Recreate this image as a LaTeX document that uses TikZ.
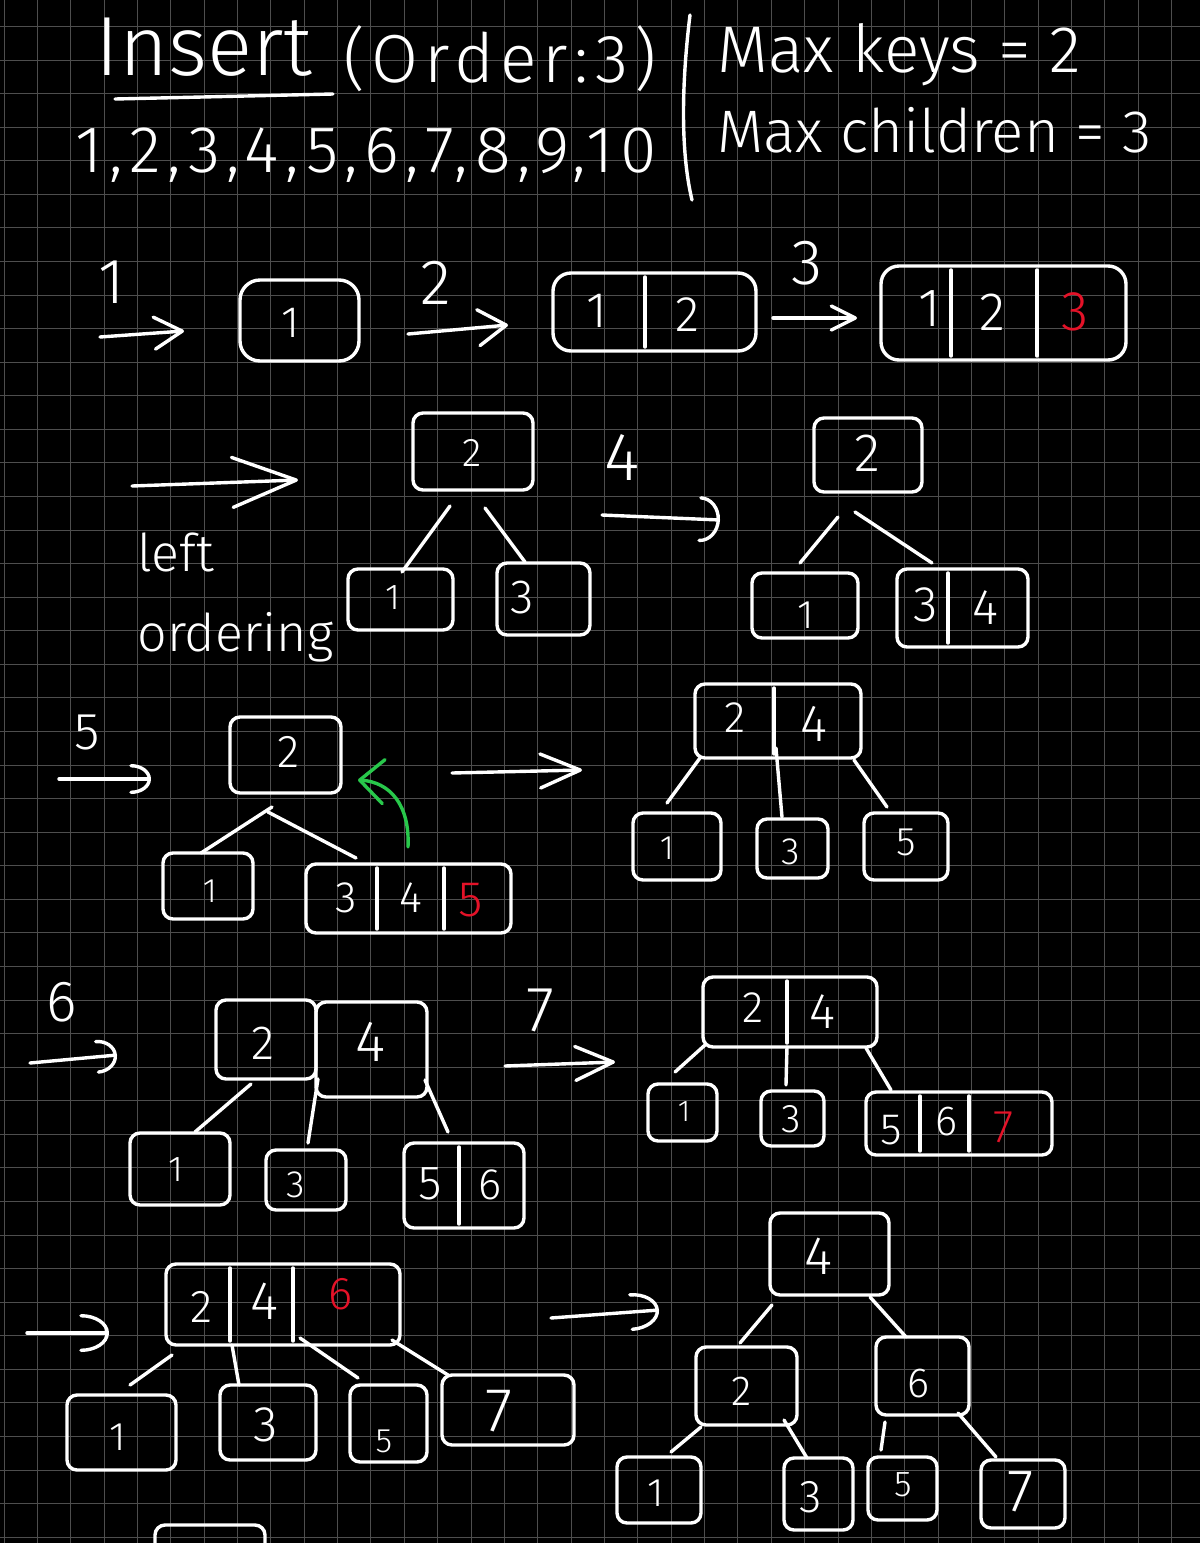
\documentclass[tikz,border=0pt]{standalone}
\usepackage{fontspec}
\setmainfont{Fira Sans Light}
\usetikzlibrary{arrows.meta,calc,fit}
\definecolor{inkred}{RGB}{228,18,40}
\definecolor{inkgreen}{RGB}{40,200,75}
\definecolor{gridc}{RGB}{78,78,78}
\newcommand{\fs}[1]{\fontsize{#1pt}{#1pt}\selectfont}
\newcommand{\kbox}[5]{\node[kbox, fit={(#2,#3) (#4,#5)}] (#1) {};}
\newcommand{\kdiv}[2]{\draw[ink, shorten <=2pt, shorten >=2pt] (#2,0 |- #1.north) -- (#2,0 |- #1.south);}
\newcommand{\bedge}[6]{\draw[ink] ($(#1.south west)+(#2,#3)$) -- ($(#4.north west)+(#5,#6)$);}
\begin{document}
\begin{tikzpicture}[x=0.5pt,y=-0.5pt,
  ink/.style={draw=white, line width=1.7pt, line cap=round, line join=round},
  kbox/.style={draw=white, line width=1.7pt, rounded corners=5pt, inner sep=0pt, outer sep=0pt},
  key/.style={text=white, inner sep=0pt},
  txt/.style={text=white, inner sep=0pt},
  gridline/.style={draw=gridc, line width=0.5pt}]
\useasboundingbox (0,0) rectangle (1200,1543);
\clip (0,0) rectangle (1200,1543);
\fill[black] (0,0) rectangle (1200,1543);
% grid: one crisp 1px line every 33.4 px
\foreach \k in {0,...,35} {
  \pgfmathsetmacro{\gx}{(round(3.5+33.36*\k)+0.5)*0.5}
  \draw[gridline] (\gx pt,0pt) -- (\gx pt,-771.5pt);
}
\foreach \k in {0,...,45} {
  \pgfmathsetmacro{\gy}{-(round(26+33.57*\k)+0.5)*0.5}
  \draw[gridline] (0pt,\gy pt) -- (600pt,\gy pt);
}

% ---------- header ----------
\node[txt, anchor=base west, font=\fs{42}] (insert) at (95,75) {Insert};
\draw[ink] (115,99) -- (333,94);
\node[txt, anchor=base west, font={\fs{34}\addfontfeatures{LetterSpace=9}}] (order) at (343,82) {(Order:3)};
\node[txt, anchor=base west, font={\fs{33}\addfontfeatures{LetterSpace=10}}] (seq) at (75,172) {1,2,3,4,5,6,7,8,9,10};
\draw[ink] (690,15) .. controls (682,80) and (680,150) .. (692,200);
\node[txt, anchor=base west, font=\fs{33}] (maxk) at (717,72) {Max keys = 2};
\node[txt, anchor=base west, font=\fs{30}] (maxc) at (717,152) {Max children = 3};

% ---------- row 1 ----------
\node[txt, font=\fs{32}] (l1) at (112,282) {1};
\coordinate (a1s) at (100,337); \coordinate (a1e) at (184,331);
\draw[ink, -{Straight Barb[round,length=14pt,width=16pt]}] (a1s) -- (a1e);
\node[kbox, rounded corners=10pt, fit={(240,280) (359,361)}] (b1) {};
\node[key, font=\fs{22}] (b1k1) at (291,323) {1};

\node[txt, font=\fs{32}] (l2) at (436,283) {2};
\coordinate (a2s) at (408,334); \coordinate (a2e) at (508,325);
\draw[ink, -{Straight Barb[round,length=14pt,width=18pt]}] (a2s) -- (a2e);
\node[kbox, rounded corners=9pt, fit={(553,273) (756,351)}] (b12) {};
\kdiv{b12}{645}
\node[key, font=\fs{25}] (b12k1) at (597,311) {1};
\node[key, font=\fs{25}] (b12k2) at (687,315) {2};

\node[txt, font=\fs{32}] (l3) at (807,263) {3};
\coordinate (a3s) at (773,318); \coordinate (a3e) at (857,318);
\draw[ink, -{Straight Barb[round,length=12pt,width=12pt]}] (a3s) -- (a3e);
\node[kbox, rounded corners=9pt, fit={(881,266) (1126,360)}] (b123) {};
\kdiv{b123}{951}
\kdiv{b123}{1037}
\node[key, font=\fs{27}] (b123k1) at (930,309) {1};
\node[key, font=\fs{27}] (b123k2) at (992,312) {2};
\node[key, font=\fs{28}, text=inkred] (b123k3) at (1075,312) {3};

% ---------- row 2 ----------
\coordinate (a4bs) at (132,486); \coordinate (a4be) at (298,480);
\draw[ink, -{Straight Barb[round,length=32pt,width=25pt]}] (a4bs) -- (a4be);
\node[txt, anchor=north west, align=left, font={\fontsize{26pt}{40pt}\selectfont}] (lord) at (137,532) {left\\ordering};

\kbox{r2a}{413}{413}{533}{490}
\node[key, font=\fs{20}] (r2ak) at (472,453) {2};
\kbox{c2a1}{348}{569}{453}{630}
\node[key, font=\fs{18}] (c2a1k) at (393,598) {1};
\kbox{c2a3}{497}{563}{590}{635}
\node[key, font=\fs{24}] (c2a3k) at (522,598) {3};
\bedge{r2a}{37}{16}{c2a1}{54}{3}
\bedge{r2a}{72}{18}{c2a3}{28}{-1}

\node[txt, font=\fs{34}] (l4) at (622,458) {4};
\coordinate (a4s) at (602,515); \coordinate (a4e) at (720,520);
\draw[ink, -{Arc Barb[round,length=10pt,width=23pt]}] (a4s) -- (a4e);

\kbox{r2b}{814}{418}{922}{492}
\node[key, font=\fs{27}] (r2bk) at (867,453) {2};
\kbox{c2b1}{752}{573}{858}{638}
\node[key, font=\fs{20}] (c2b1k) at (806,615) {1};
\kbox{c2b34}{897}{569}{1028}{647}
\kdiv{c2b34}{948}
\node[key, font=\fs{25}] (c2b34k1) at (926,605) {3};
\node[key, font=\fs{25}] (c2b34k2) at (985,608) {4};
\bedge{r2b}{24}{25}{c2b1}{48}{-10}
\bedge{r2b}{41}{20}{c2b34}{35}{-6}

% ---------- row 3 ----------
\node[txt, font=\fs{26}] (l5) at (87,732) {5};
\coordinate (a5s) at (59,779); \coordinate (a5e) at (151,779);
\draw[ink, -{Arc Barb[round,length=10pt,width=15pt]}] (a5s) -- (a5e);
\kbox{r3a}{230}{717}{341}{793}
\node[key, font=\fs{23}] (r3ak) at (289,752) {2};
\kbox{c3a1}{163}{853}{253}{919}
\node[key, font=\fs{17}] (c3a1k) at (210,891) {1};
\kbox{c345}{306}{864}{511}{933}
\kdiv{c345}{377}
\kdiv{c345}{444}
\node[key, font=\fs{22}] (c345k1) at (346,898) {3};
\node[key, font=\fs{22}] (c345k2) at (411,898) {4};
\node[key, font=\fs{25}, text=inkred] (c345k3) at (471,900) {5};
\bedge{r3a}{42}{14}{c3a1}{38}{0}
\bedge{r3a}{38}{19}{c345}{50}{-6}
\draw[ink, draw=inkgreen, -{Straight Barb[round,length=12pt,width=22pt]}]
  ($(c345.north west)+(102,-17)$) .. controls (410,805) and (390,782) .. ($(r3a.south east)+(17,-13)$);

\coordinate (a5bs) at (452,773); \coordinate (a5be) at (582,770);
\draw[ink, -{Straight Barb[round,length=20pt,width=17pt]}] (a5bs) -- (a5be);
\kbox{r3b}{695}{684}{861}{758}
\kdiv{r3b}{774}
\node[key, font=\fs{22}] (r3bk1) at (735,718) {2};
\node[key, font=\fs{26}] (r3bk2) at (814,724) {4};
\kbox{c3b1}{633}{813}{721}{880}
\node[key, font=\fs{17}] (c3b1k) at (667,848) {1};
\kbox{c3b3}{757}{819}{828}{878}
\node[key, font=\fs{19}] (c3b3k) at (791,852) {3};
\kbox{c3b5}{864}{813}{948}{880}
\node[key, font=\fs{20}] (c3b5k) at (906,842) {5};
\bedge{r3b}{5}{0}{c3b1}{34}{-10}
\bedge{r3b}{81}{-10}{c3b3}{25}{-2}
\bedge{r3b}{159}{2}{c3b5}{23}{-6}

% ---------- row 4 ----------
\node[txt, font=\fs{29}] (l6) at (62,1002) {6};
\coordinate (a6s) at (30,1063); \coordinate (a6e) at (117,1055);
\draw[ink, -{Arc Barb[round,length=10pt,width=17pt]}] (a6s) -- (a6e);
\kbox{r4a2}{216}{1000}{316}{1079}
\node[key, font=\fs{24}] (r4a2k) at (263,1043) {2};
\kbox{r4a4}{316}{1002}{427}{1097}
\node[key, font=\fs{29}] (r4a4k) at (371,1042) {4};
\kbox{c4a1}{130}{1133}{230}{1205}
\node[key, font=\fs{18}] (c4a1k) at (176,1170) {1};
\kbox{c4a3}{266}{1150}{346}{1210}
\node[key, font=\fs{19}] (c4a3k) at (296,1185) {3};
\kbox{c4a56}{404}{1143}{524}{1228}
\kdiv{c4a56}{459}
\node[key, font=\fs{24}] (c4a56k1) at (430,1184) {5};
\node[key, font=\fs{22}] (c4a56k2) at (490,1185) {6};
\bedge{r4a2}{35}{5}{c4a1}{65}{-1}
\bedge{r4a2}{102}{0}{c4a3}{42}{-7}
\bedge{r4a4}{109}{-17}{c4a56}{44}{-11}

\node[txt, font=\fs{32}] (l7) at (540,1010) {7};
\coordinate (a7s) at (505,1066); \coordinate (a7e) at (615,1062);
\draw[ink, -{Straight Barb[round,length=19pt,width=17pt]}] (a7s) -- (a7e);
\kbox{r4b}{703}{977}{877}{1047}
\kdiv{r4b}{787}
\node[key, font=\fs{22}] (r4bk1) at (753,1008) {2};
\node[key, font=\fs{25}] (r4bk2) at (822,1012) {4};
\kbox{c4b1}{648}{1084}{717}{1141}
\node[key, font=\fs{15}] (c4b1k) at (684,1112) {1};
\kbox{c4b3}{761}{1091}{824}{1146}
\node[key, font=\fs{20}] (c4b3k) at (791,1119) {3};
\kbox{c4b567}{866}{1092}{1052}{1155}
\kdiv{c4b567}{920}
\kdiv{c4b567}{969}
\node[key, font=\fs{22}] (c4b567k1) at (891,1130) {5};
\node[key, font=\fs{21}] (c4b567k2) at (946,1122) {6};
\node[key, font=\fs{23}, text=inkred] (c4b567k3) at (1004,1127) {7};
\bedge{r4b}{2}{-2}{c4b1}{27}{-12}
\bedge{r4b}{84}{0}{c4b3}{25}{-6}
\bedge{r4b}{163}{1}{c4b567}{25}{-2}

% ---------- row 5 ----------
\coordinate (a8s) at (27,1333); \coordinate (a8e) at (109,1333);
\draw[ink, -{Arc Barb[round,length=14pt,width=19pt]}] (a8s) -- (a8e);
\kbox{r5a}{166}{1264}{400}{1345}
\kdiv{r5a}{230}
\kdiv{r5a}{293}
\node[key, font=\fs{23}] (r5ak1) at (202,1307) {2};
\node[key, font=\fs{27}] (r5ak2) at (264,1301) {4};
\node[key, font=\fs{23}, text=inkred] (r5ak3) at (341,1294) {6};
\kbox{c5a1}{67}{1395}{176}{1470}
\node[key, font=\fs{20}] (c5a1k) at (118,1437) {1};
\kbox{c5a3}{220}{1385}{316}{1460}
\node[key, font=\fs{25}] (c5a3k) at (266,1425) {3};
\kbox{c5a5}{350}{1385}{427}{1462}
\node[key, font=\fs{17}] (c5a5k) at (384,1441) {5};
\kbox{c5a7}{442}{1375}{574}{1445}
\node[key, font=\fs{31}] (c5a7k) at (499,1411) {7};
\bedge{r5a}{6}{10}{c5a1}{63}{-10}
\bedge{r5a}{66}{0}{c5a3}{19}{0}
\bedge{r5a}{134}{-7}{c5a5}{8}{-7}
\bedge{r5a}{226}{-5}{c5a7}{6}{0}

\coordinate (a9s) at (551,1318); \coordinate (a9e) at (659,1310);
\draw[ink, -{Arc Barb[round,length=14pt,width=19pt]}] (a9s) -- (a9e);
\kbox{r5b4}{770}{1213}{889}{1295}
\node[key, font=\fs{27}] (r5b4k) at (818,1256) {4};
\kbox{r5b2}{696}{1347}{797}{1425}
\node[key, font=\fs{21}] (r5b2k) at (742,1391) {2};
\kbox{r5b6}{876}{1337}{969}{1415}
\node[key, font=\fs{21}] (r5b6k) at (918,1384) {6};
\kbox{l5b1}{617}{1457}{701}{1523}
\node[key, font=\fs{20}] (l5b1k) at (656,1493) {1};
\kbox{l5b3}{784}{1458}{853}{1530}
\node[key, font=\fs{23}] (l5b3k) at (811,1497) {3};
\kbox{l5b5}{868}{1457}{937}{1520}
\node[key, font=\fs{18}] (l5b5k) at (903,1485) {5};
\kbox{l5b7}{981}{1460}{1065}{1528}
\node[key, font=\fs{30}] (l5b7k) at (1021,1492) {7};
\bedge{r5b4}{2}{10}{r5b2}{44}{-4}
\bedge{r5b4}{100}{2}{r5b6}{30}{0}
\bedge{r5b2}{5}{2}{l5b1}{54}{-5}
\bedge{r5b2}{88}{-5}{l5b3}{23}{0}
\bedge{r5b6}{9}{7}{l5b5}{13}{-7}
\bedge{r5b6}{82}{-2}{l5b7}{15}{-3}

% partial box at the bottom edge
\kbox{pbox}{155}{1525}{265}{1610}
\end{tikzpicture}
\end{document}
